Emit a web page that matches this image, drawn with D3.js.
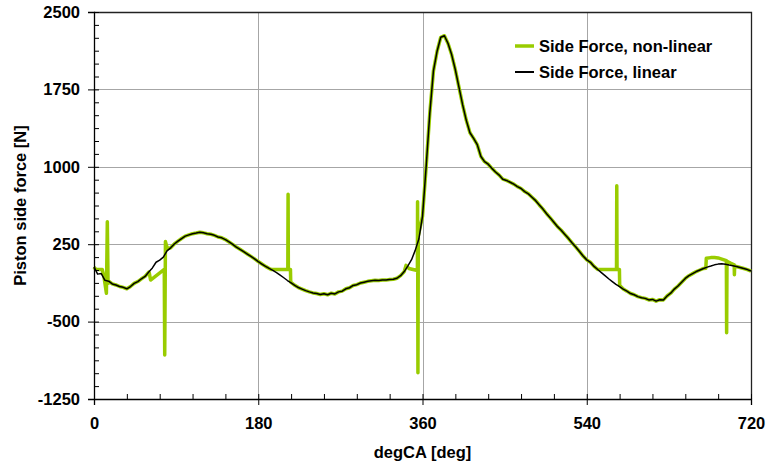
<!DOCTYPE html>
<html>
<head>
<meta charset="utf-8">
<script src="https://cdn.jsdelivr.net/npm/d3@7/dist/d3.min.js"></script>
<style>
  html, body { margin: 0; padding: 0; background: #fff; }
  svg { display: block; }
  text { font-family: "Liberation Sans", Arial, sans-serif; font-weight: bold; fill: #000; }
</style>
</head>
<body>
<svg id="chart" width="767" height="470"></svg>
<script>
// Crank angle grid (deg), 4-degree steps over the full 720-degree cycle
const crankAngle = d3.range(0, 721, 4);

// Linear side force [N] on the crank angle grid
const linearForce = [
  30, -40, -35, -100, -108, -135, -145, -160, -168, -182,
  -160, -130, -112, -85, -62, -20, 20, 75, 95, 125,
  185, 215, 252, 280, 305, 328, 340, 352, 358, 366,
  360, 352, 346, 336, 320, 312, 295, 272, 248, 222,
  200, 178, 155, 132, 108, 82, 58, 35, 15, -3,
  -25, -50, -75, -102, -125, -148, -170, -185, -200, -212,
  -222, -228, -238, -230, -240, -225, -232, -212, -205, -182,
  -172, -150, -142, -126, -118, -110, -105, -100, -102, -96,
  -98, -92, -90, -80, -55, -15, 40, 100, 190, 300,
  520, 1000, 1520, 1930, 2120, 2255, 2270, 2195, 2085, 1940,
  1770, 1600, 1450, 1330, 1275, 1215, 1100, 1050, 1025, 985,
  950, 920, 880, 868, 850, 832, 808, 790, 760, 738,
  705, 672, 630, 590, 545, 505, 462, 420, 385, 345,
  305, 262, 222, 180, 135, 98, 75, 35, 5, -25,
  -55, -85, -112, -140, -162, -185, -205, -228, -240, -258,
  -268, -275, -290, -285, -302, -288, -290, -252, -225, -185,
  -155, -118, -82, -55, -35, -15, 0, 15, 28, 38,
  50, 57, 60, 55, 48, 42, 34, 24, 14, 4,
  -10
];

// Crank-angle spans where the non-linear model departs from the linear one
const deviationSpans = [[0, 15.9], [60.5, 83], [193, 217], [340.5, 359], [553, 578], [670, 703]];

// Non-linear side force inside those spans (deg, N)
const deviationAngle = [
  0, 2, 9, 11, 13.6, 14.6, 15.4,
  60.5, 62, 77, 77.5, 78.3, 80.5,
  194, 212.4, 212.7, 213.0, 215.3, 215.6,
  340.5, 342, 345, 352, 354.4, 354.6, 355.0, 355.4,
  553.5, 572.6, 572.9, 573.2, 575.8, 576.1,
  670.5, 671, 676, 680, 684, 688, 693, 693.3, 693.7, 698, 701.6, 701.8, 702.1
];
const deviationForce = [
  28, 6, 6, -70, -226, 468, -128,
  -25, -97, 6, -824, 275, 205,
  6, 6, 734, 6, 6, -118,
  0, 45, 15, 0, -5, 662, -995, 330,
  6, 6, 817, 6, 6, -150,
  18, 113, 120, 122, 117, 106, 90, -608, 85, 65, 50, -45, 36
];

const xTicks = [0, 180, 360, 540, 720];
const yTicks = [-1250, -500, 250, 1000, 1750, 2500];
const xMinorTicks = d3.range(0, 721, 36);
const yMinorTicks = d3.range(-1250, 2501, 125);

const seriesNames = ["Side Force, non-linear", "Side Force, linear"];
const seriesColors = ["#99cc00", "#000000"];

// Build point lists
const linearPoints = crankAngle.map((a, i) => ({ angle: a, force: linearForce[i] }));
const inSpan = a => deviationSpans.some(([s, e]) => a >= s && a <= e);
const nonlinearPoints = linearPoints
  .filter(p => !inSpan(p.angle))
  .concat(deviationAngle.map((a, i) => ({ angle: a, force: deviationForce[i] })))
  .sort((p, q) => p.angle - q.angle);

const svg = d3.select("#chart");
const plotLeft = 94, plotRight = 751, plotTop = 12, plotBottom = 399;

const x = d3.scaleLinear().domain([0, 720]).range([plotLeft, plotRight]);
const y = d3.scaleLinear().domain([-1250, 2500]).range([plotBottom, plotTop]);

// Grid lines
const grid = svg.append("g").attr("stroke", "#a6a6a6").attr("stroke-width", 1);
grid.selectAll("line.gx").data(xTicks.slice(1, -1)).join("line")
  .attr("x1", d => Math.round(x(d)) + 0.5).attr("x2", d => Math.round(x(d)) + 0.5)
  .attr("y1", plotTop).attr("y2", plotBottom);
grid.selectAll("line.gy").data(yTicks.slice(1, -1)).join("line")
  .attr("y1", d => Math.round(y(d)) + 0.5).attr("y2", d => Math.round(y(d)) + 0.5)
  .attr("x1", plotLeft).attr("x2", plotRight);

// Frame on top and right
svg.append("path")
  .attr("d", `M${plotLeft},${plotTop + 0.5}H${plotRight + 0.5}V${plotBottom}`)
  .attr("fill", "none").attr("stroke", "#222").attr("stroke-width", 1.3);

// Series lines
const line = d3.line().x(d => x(d.angle)).y(d => y(d.force));
svg.append("path").datum(nonlinearPoints)
  .attr("d", line).attr("fill", "none")
  .attr("stroke", seriesColors[0]).attr("stroke-width", 3.5)
  .attr("stroke-linejoin", "round");
svg.append("path").datum(linearPoints)
  .attr("d", line).attr("fill", "none")
  .attr("stroke", seriesColors[1]).attr("stroke-width", 1.5)
  .attr("stroke-linejoin", "round");

// Axes: major ticks outward, minor ticks inward
const plainNumber = d => String(d);
const xAxis = svg.append("g").attr("transform", `translate(0,${plotBottom})`)
  .call(d3.axisBottom(x).tickValues(xTicks).tickSize(6).tickPadding(12).tickFormat(plainNumber));
svg.append("g").attr("transform", `translate(0,${plotBottom})`)
  .call(d3.axisBottom(x).tickValues(xMinorTicks).tickSize(-5).tickFormat(""))
  .call(g => g.select(".domain").remove());
const yAxis = svg.append("g").attr("transform", `translate(${plotLeft},0)`)
  .call(d3.axisLeft(y).tickValues(yTicks).tickSize(6).tickPadding(8).tickFormat(plainNumber));
svg.append("g").attr("transform", `translate(${plotLeft},0)`)
  .call(d3.axisLeft(y).tickValues(yMinorTicks).tickSize(-5).tickFormat(""))
  .call(g => g.select(".domain").remove());

svg.selectAll(".domain").attr("stroke", "#000").attr("stroke-width", 1.3);
svg.selectAll(".tick line").attr("stroke", "#000");
xAxis.selectAll("text").style("font-size", "16.5px").style("font-family", "'Liberation Sans', Arial, sans-serif").style("font-weight", "bold");
yAxis.selectAll("text").style("font-size", "16.5px").style("font-family", "'Liberation Sans', Arial, sans-serif").style("font-weight", "bold");

// Axis titles
svg.append("text")
  .attr("x", (plotLeft + plotRight) / 2).attr("y", 458)
  .attr("text-anchor", "middle").style("font-size", "16.5px")
  .text("degCA [deg]");
svg.append("text")
  .attr("transform", `translate(26,${(plotTop + plotBottom) / 2}) rotate(-90)`)
  .attr("text-anchor", "middle").style("font-size", "16.5px")
  .text("Piston side force [N]");

// Legend
const legend = svg.append("g");
seriesNames.forEach((name, i) => {
  const ly = 46 + i * 26;
  legend.append("line")
    .attr("x1", 515).attr("x2", 534).attr("y1", ly).attr("y2", ly)
    .attr("stroke", seriesColors[i]).attr("stroke-width", i === 0 ? 3.5 : 2);
  legend.append("text")
    .attr("x", 539).attr("y", ly + 6)
    .style("font-size", "16.5px")
    .text(name);
});
</script>
</body>
</html>
